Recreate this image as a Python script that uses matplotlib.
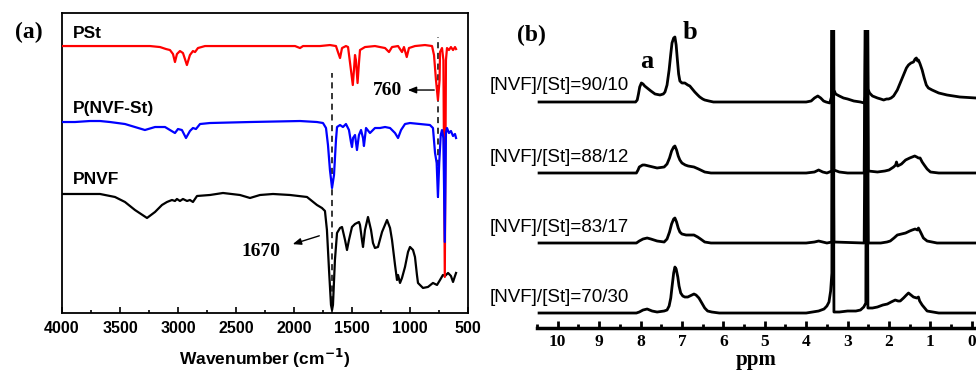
import matplotlib.pyplot as plt
import numpy as np

# ---- (a) FTIR, wavenumber (cm-1) vs transmittance (a.u.) ----
pnvf_wn = [4000, 3672, 3543, 3457, 3371, 3267, 3198, 3138, 3095, 3052, 3026, 3009, 2983,
           2957, 2922, 2897, 2871, 2836, 2724, 2612, 2466, 2379, 2293, 2181, 2034, 1888,
           1802, 1759, 1733, 1716, 1698, 1681, 1672, 1664, 1647, 1629, 1603, 1586, 1560,
           1543, 1526, 1500, 1474, 1457, 1440, 1431, 1414, 1405, 1388, 1362, 1336, 1319,
           1302, 1276, 1241, 1198, 1172, 1155, 1129, 1112, 1103, 1086, 1069, 1043, 1017,
           1000, 974, 957, 940, 931, 914, 888, 845, 802, 767, 741, 716, 698, 672, 647,
           629, 612, 603]
pnvf_t = [119, 119, 116, 111, 103, 95, 101, 108, 111, 113, 112, 114, 112,
          114, 112, 113, 111, 117, 118, 120, 118, 115, 118, 119, 118, 116,
          108, 105, 102, 83, 43, 8, 3, 8, 53, 80, 85, 86, 73,
          63, 73, 86, 89, 90, 91, 88, 73, 66, 83, 96, 83, 70,
          65, 66, 81, 93, 85, 73, 48, 33, 38, 30, 35, 46, 61,
          66, 63, 56, 38, 30, 28, 25, 26, 30, 28, 33, 38, 37, 40, 37,
          31, 37, 40]

pst_wn = [4000, 3672, 3241, 3155, 3103, 3069, 3043, 3026, 3009, 2983, 2957, 2923, 2897,
          2871, 2853, 2828, 2767, 2379, 1991, 1948, 1922, 1776, 1690, 1638, 1621, 1603,
          1586, 1552, 1534, 1509, 1493, 1483, 1474, 1466, 1452, 1440, 1431, 1388, 1302,
          1215, 1181, 1155, 1103, 1069, 1052, 1028, 1009, 957, 871, 810, 793, 776, 759,
          745, 741, 724, 712, 700, 690, 681, 664, 647, 629, 612, 603]
pst_t = [267, 267, 267, 266, 264, 263, 259, 251, 259, 262, 260, 248, 258,
         262, 261, 265, 267, 267, 267, 265, 267, 267, 268, 267, 261, 255,
         265, 267, 266, 243, 228, 243, 258, 253, 230, 250, 263, 266, 267,
         265, 261, 266, 267, 261, 266, 256, 265, 267, 268, 267, 258, 233, 213,
         233, 261, 265, 253, 36, 253, 265, 263, 266, 263, 266, 264]

copo_wn = [4000, 3888, 3759, 3672, 3586, 3457, 3371, 3285, 3198, 3112, 3069, 3026, 3000,
           2966, 2931, 2897, 2871, 2845, 2810, 2724, 2379, 1948, 1802, 1750, 1724, 1707,
           1690, 1672, 1655, 1638, 1629, 1603, 1578, 1552, 1526, 1509, 1500, 1491, 1474,
           1457, 1440, 1422, 1405, 1397, 1379, 1345, 1302, 1259, 1215, 1172, 1129, 1103,
           1077, 1043, 1000, 914, 828, 802, 784, 770, 759, 748, 735, 724, 712, 700, 690,
           681, 664, 647, 629, 612, 603]
copo_t = [191, 191, 192, 192, 191, 189, 186, 183, 186, 186, 183, 180, 184,
          183, 175, 182, 185, 184, 189, 190, 191, 192, 191, 190, 185, 168,
          143, 125, 138, 173, 186, 188, 186, 189, 183, 171, 166, 175, 178,
          163, 178, 183, 175, 167, 185, 180, 185, 185, 186, 185, 180, 175,
          183, 189, 190, 189, 188, 185, 160, 150, 116, 150, 178, 183, 175, 71, 180,
          185, 180, 182, 177, 179, 175]

# ---- (b) 1H NMR, chemical shift (ppm) vs intensity above own baseline ----
ratio_labels = ["[NVF]/[St]=90/10", "[NVF]/[St]=88/12", "[NVF]/[St]=83/17", "[NVF]/[St]=70/30"]

nmr_ppm_1 = [10.45, 8.5, 8.12, 8.08, 8.05, 8.02, 7.98, 7.94, 7.9, 7.84, 7.75, 7.65, 7.53, 7.45,
             7.41, 7.36, 7.31, 7.27, 7.24, 7.2, 7.17, 7.14, 7.11, 7.08, 7.05, 7.0, 6.93, 6.86,
             6.81, 6.75, 6.69, 6.62, 6.57, 6.5, 6.45, 6.35, 6.24, 4.0, 3.88, 3.8, 3.72, 3.65,
             3.58, 3.52, 3.43, 3.39, 3.36, 3.33, 3.29, 3.2, 3.1, 3.0, 2.85, 2.69, 2.6, 2.56,
             2.54, 2.51, 2.47, 2.4, 2.28, 2.2, 2.13, 2.06, 2.01, 1.95, 1.89, 1.8, 1.73, 1.65,
             1.58, 1.53, 1.47, 1.41, 1.37, 1.34, 1.31, 1.29, 1.25, 1.2, 1.15, 1.1, 1.05, 0.96,
             0.8, 0.6, 0.29, -0.1]
nmr_int_1 = [0, 0, 0, 2, 8, 15, 19, 18, 16, 14, 11, 8, 7, 8,
             10, 17, 32, 48, 59, 64, 65, 57, 42, 28, 21, 19, 19, 17,
             16, 13, 10, 7, 5, 3, 2, 1, 0, 0, 1, 4, 6, 4,
             1, 0, -1, 5, 400, 12, 8, 6, 4, 3, 1, 0, -1, 8,
             400, 13, 9, 6, 4, 3, 2, 3, 3, 4, 6, 12, 19, 27,
             34, 37, 39, 40, 43, 44, 41, 42, 38, 32, 24, 17, 14, 12,
             9, 7, 5, 4]

nmr_ppm_2 = [10.45, 8.1, 8.06, 8.03, 7.95, 7.9, 7.8, 7.6, 7.43, 7.36, 7.3, 7.25, 7.2, 7.17,
             7.13, 7.09, 7.05, 7.0, 6.92, 6.85, 6.71, 6.6, 6.45, 6.3, 4.0, 3.8, 3.7, 3.6,
             3.5, 3.38, 3.36, 3.33, 3.2, 3.0, 2.6, 2.54, 2.5, 2.28, 2.1, 2.0, 1.89, 1.84,
             1.82, 1.79, 1.7, 1.6, 1.5, 1.44, 1.38, 1.33, 1.29, 1.25, 1.2, 1.15, 1.08, 1.0,
             0.8, -0.1]
nmr_int_2 = [0, 0, 3, 6, 8, 8, 7, 5, 6, 9, 15, 22, 26, 27,
             23, 17, 13, 10, 8, 7, 6, 4, 1, 0, 0, 1, 3, 1,
             0, 2, 400, 3, 1, 0, 0, 400, 2, 1, 2, 3, 6, 8,
             11, 7, 9, 13, 15, 16, 17, 16, 15, 15, 11, 8, 4, 1,
             0, 0]

nmr_ppm_3 = [10.45, 8.1, 8.03, 7.94, 7.84, 7.75, 7.6, 7.43, 7.36, 7.3, 7.25, 7.2, 7.17, 7.13,
             7.09, 7.05, 7.0, 6.9, 6.8, 6.71, 6.62, 6.55, 6.45, 6.3, 4.0, 3.8, 3.7, 3.6,
             3.5, 3.38, 3.36, 3.33, 2.6, 2.54, 2.5, 2.2, 2.05, 1.97, 1.88, 1.8, 1.7, 1.6,
             1.5, 1.44, 1.37, 1.31, 1.29, 1.24, 1.17, 1.08, 0.96, 0.84, -0.1]
nmr_int_3 = [0, 0, 2, 4, 5, 4, 2, 1, 4, 11, 19, 24, 25, 21,
             15, 11, 9, 8, 8, 8, 6, 4, 1, 0, 0, 1, 2, 1,
             0, 1, 400, 1, 0, 400, 0, 0, 1, 2, 5, 8, 9, 10,
             12, 13, 14, 13, 15, 11, 5, 2, 1, 0, 0]

nmr_ppm_4 = [10.45, 8.1, 8.03, 7.94, 7.84, 7.72, 7.6, 7.43, 7.36, 7.31, 7.27, 7.24, 7.2, 7.17,
             7.14, 7.1, 7.07, 7.03, 6.98, 6.93, 6.86, 6.81, 6.76, 6.71, 6.66, 6.59, 6.52, 6.45,
             6.38, 6.28, 6.1, 4.0, 3.7, 3.57, 3.5, 3.45, 3.41, 3.38, 3.36, 3.33, 3.2, 3.0,
             2.8, 2.69, 2.61, 2.56, 2.54, 2.51, 2.4, 2.28, 2.15, 2.04, 1.95, 1.85, 1.78, 1.73,
             1.65, 1.58, 1.53, 1.47, 1.41, 1.33, 1.29, 1.26, 1.2, 1.14, 1.08, 0.94, 0.8, -0.1]
nmr_int_4 = [0, 0, 1, 3, 4, 2, 1, 2, 3, 7, 15, 26, 40, 46,
             44, 36, 27, 20, 17, 16, 16, 17, 18, 19, 18, 15, 10, 5,
             2, 1, 0, 0, 2, 4, 7, 11, 22, 40, 400, 1, 1, 2,
             2, 3, 6, 10, 400, 5, 5, 6, 8, 9, 11, 13, 12, 12,
             15, 18, 20, 18, 16, 15, 16, 12, 8, 5, 2, 1, 0, 0]

nmr_ppm = [nmr_ppm_1, nmr_ppm_2, nmr_ppm_3, nmr_ppm_4]
nmr_int = [nmr_int_1, nmr_int_2, nmr_int_3, nmr_int_4]

SANS = "Liberation Sans"
SERIF = "Liberation Serif"

fig = plt.figure(figsize=(9.76, 3.73), dpi=100)

# panel (a)
ax = fig.add_axes([0.0635, 0.161, 0.416, 0.804])
ax.plot(pnvf_wn, pnvf_t, color="black", lw=1.6, zorder=3, solid_joinstyle="round")
ax.plot(pst_wn, pst_t, color="#ff0000", lw=1.6, zorder=4, solid_joinstyle="round")
ax.plot(copo_wn, copo_t, color="#0000ff", lw=1.6, zorder=5, solid_joinstyle="round")
ax.plot([1670, 1670], [0, 240], color="black", ls=(0, (4, 3)), lw=1.1, zorder=2)
ax.plot([760, 760], [115, 276], color="black", ls=(0, (4, 3)), lw=1.1, zorder=2)

ax.set_xlim(4000, 500)
ax.set_ylim(0, 300)
ax.set_yticks([])
ax.set_xticks(np.arange(4000, 499, -500))
ax.set_xticks(np.arange(4000, 499, -250), minor=True)
ax.tick_params(axis="x", which="both", direction="in", top=False, width=1.2)
ax.tick_params(axis="x", which="major", length=4, pad=6)
ax.tick_params(axis="x", which="minor", length=2.5)
for lab in ax.get_xticklabels():
    lab.set_fontfamily(SANS)
    lab.set_fontweight("bold")
    lab.set_fontsize(11.5)
for sp in ax.spines.values():
    sp.set_linewidth(1.3)
ax.set_xlabel("Wavenumber (cm$^{\\mathbf{-1}}$)", fontfamily=SANS, fontweight="bold",
              fontsize=12.5, labelpad=8)

ax.text(3905, 280, "PSt", fontfamily=SANS, fontweight="bold", fontsize=12.5, va="center")
ax.text(3905, 205, "P(NVF-St)", fontfamily=SANS, fontweight="bold", fontsize=12.5, va="center")
ax.text(3905, 133, "PNVF", fontfamily=SANS, fontweight="bold", fontsize=12.5, va="center")

ax.annotate("", xy=(1043, 223), xytext=(767, 223),
            arrowprops=dict(arrowstyle="-|>,head_length=0.5,head_width=0.2", color="black", lw=1))
ax.text(1190, 223, "760", fontfamily=SERIF, fontweight="bold", fontsize=14, ha="center", va="center")
ax.annotate("", xy=(2034, 68), xytext=(1759, 78),
            arrowprops=dict(arrowstyle="-|>,head_length=0.5,head_width=0.2", color="black", lw=1))
ax.text(2284, 61, "1670", fontfamily=SERIF, fontweight="bold", fontsize=14, ha="center", va="center")

fig.text(0.030, 0.912, "(a)", fontfamily=SERIF, fontweight="bold", fontsize=17, ha="center", va="center")

# panel (b)
bx = fig.add_axes([0.5502, 0.1206, 0.4498, 0.799])
offsets = [226, 155, 85, 15]
for ppm, inten, off, lab in zip(nmr_ppm, nmr_int, offsets, ratio_labels):
    bx.plot(ppm, np.array(inten) + off, color="black", lw=2.0, solid_joinstyle="round")
    bx.text(8.27, off + 16, lab, fontfamily=SANS, fontsize=13.5, ha="right", va="center")

bx.text(7.84, 266, "a", fontfamily=SERIF, fontweight="bold", fontsize=19, ha="center", va="center")
bx.text(6.81, 295, "b", fontfamily=SERIF, fontweight="bold", fontsize=19, ha="center", va="center")

bx.set_xlim(10.45, -0.1)
bx.set_ylim(0, 298)
bx.set_yticks([])
for s in ["left", "right", "top"]:
    bx.spines[s].set_visible(False)
bx.spines["bottom"].set_linewidth(2.5)
bx.set_xticks(np.arange(0, 11, 1))
bx.set_xticks(np.arange(0, 10.6, 0.5), minor=True)
bx.tick_params(axis="x", which="both", direction="in", width=2)
bx.tick_params(axis="x", which="major", length=5, pad=4)
bx.tick_params(axis="x", which="minor", length=3)
for lab in bx.get_xticklabels():
    lab.set_fontfamily(SERIF)
    lab.set_fontweight("bold")
    lab.set_fontsize(12.5)
bx.set_xlabel("ppm", fontfamily=SERIF, fontweight="bold", fontsize=15, labelpad=0)

fig.text(0.545, 0.906, "(b)", fontfamily=SERIF, fontweight="bold", fontsize=17, ha="center", va="center")

plt.savefig("out.png", dpi=100)
